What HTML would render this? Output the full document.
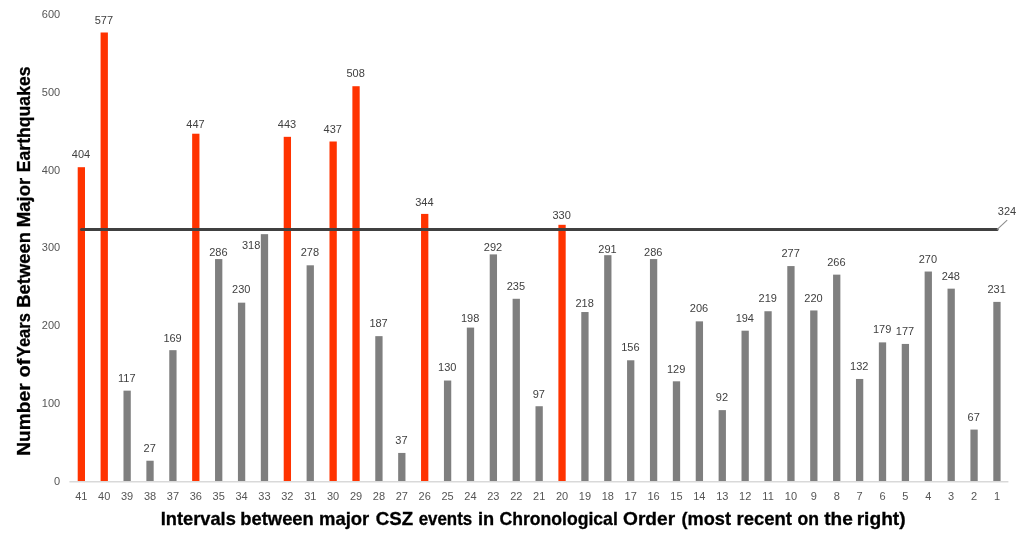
<!DOCTYPE html>
<html lang="en"><head><meta charset="utf-8"><title>Intervals between major CSZ events</title>
<style>
html,body{margin:0;padding:0;background:#fff;}
body{width:1023px;height:544px;overflow:hidden;}
svg{display:block;font-family:"Liberation Sans",sans-serif;}
.ax{font-size:11px;fill:#555;}
.dl{font-size:11px;fill:#404040;}
.t{font-size:17.7px;font-weight:bold;fill:#000;stroke:#000;stroke-width:0.3px;}
</style></head><body>
<svg width="1023" height="544" viewBox="0 0 1023 544">
<rect width="1023" height="544" fill="#fff"/>
<text class="ax" x="60.2" y="485" text-anchor="end">0</text>
<text class="ax" x="60.2" y="407" text-anchor="end">100</text>
<text class="ax" x="60.2" y="329" text-anchor="end">200</text>
<text class="ax" x="60.2" y="251" text-anchor="end">300</text>
<text class="ax" x="60.2" y="174" text-anchor="end">400</text>
<text class="ax" x="60.2" y="96" text-anchor="end">500</text>
<text class="ax" x="60.2" y="18" text-anchor="end">600</text>
<rect x="77.70" y="167.20" width="7.3" height="313.90" fill="#ff3300"/>
<rect x="100.59" y="32.50" width="7.3" height="448.60" fill="#ff3300"/>
<rect x="123.48" y="390.65" width="7.3" height="90.45" fill="#7f7f7f"/>
<rect x="146.37" y="460.73" width="7.3" height="20.37" fill="#7f7f7f"/>
<rect x="169.26" y="350.17" width="7.3" height="130.93" fill="#7f7f7f"/>
<rect x="192.15" y="133.72" width="7.3" height="347.38" fill="#ff3300"/>
<rect x="215.04" y="259.07" width="7.3" height="222.03" fill="#7f7f7f"/>
<rect x="237.93" y="302.67" width="7.3" height="178.43" fill="#7f7f7f"/>
<rect x="260.82" y="234.16" width="7.3" height="246.94" fill="#7f7f7f"/>
<rect x="283.71" y="136.83" width="7.3" height="344.27" fill="#ff3300"/>
<rect x="306.60" y="265.30" width="7.3" height="215.80" fill="#7f7f7f"/>
<rect x="329.49" y="141.50" width="7.3" height="339.60" fill="#ff3300"/>
<rect x="352.38" y="86.22" width="7.3" height="394.88" fill="#ff3300"/>
<rect x="375.27" y="336.15" width="7.3" height="144.95" fill="#7f7f7f"/>
<rect x="398.16" y="452.94" width="7.3" height="28.16" fill="#7f7f7f"/>
<rect x="421.05" y="213.91" width="7.3" height="267.19" fill="#ff3300"/>
<rect x="443.94" y="380.53" width="7.3" height="100.57" fill="#7f7f7f"/>
<rect x="466.83" y="327.59" width="7.3" height="153.51" fill="#7f7f7f"/>
<rect x="489.72" y="254.40" width="7.3" height="226.70" fill="#7f7f7f"/>
<rect x="512.61" y="298.78" width="7.3" height="182.32" fill="#7f7f7f"/>
<rect x="535.50" y="406.23" width="7.3" height="74.87" fill="#7f7f7f"/>
<rect x="558.39" y="224.81" width="7.3" height="256.29" fill="#ff3300"/>
<rect x="581.28" y="312.02" width="7.3" height="169.08" fill="#7f7f7f"/>
<rect x="604.17" y="255.18" width="7.3" height="225.92" fill="#7f7f7f"/>
<rect x="627.06" y="360.29" width="7.3" height="120.81" fill="#7f7f7f"/>
<rect x="649.95" y="259.07" width="7.3" height="222.03" fill="#7f7f7f"/>
<rect x="672.84" y="381.31" width="7.3" height="99.79" fill="#7f7f7f"/>
<rect x="695.73" y="321.36" width="7.3" height="159.74" fill="#7f7f7f"/>
<rect x="718.62" y="410.12" width="7.3" height="70.98" fill="#7f7f7f"/>
<rect x="741.51" y="330.70" width="7.3" height="150.40" fill="#7f7f7f"/>
<rect x="764.40" y="311.24" width="7.3" height="169.86" fill="#7f7f7f"/>
<rect x="787.29" y="266.08" width="7.3" height="215.02" fill="#7f7f7f"/>
<rect x="810.18" y="310.46" width="7.3" height="170.64" fill="#7f7f7f"/>
<rect x="833.07" y="274.64" width="7.3" height="206.46" fill="#7f7f7f"/>
<rect x="855.96" y="378.97" width="7.3" height="102.13" fill="#7f7f7f"/>
<rect x="878.85" y="342.38" width="7.3" height="138.72" fill="#7f7f7f"/>
<rect x="901.74" y="343.94" width="7.3" height="137.16" fill="#7f7f7f"/>
<rect x="924.63" y="271.53" width="7.3" height="209.57" fill="#7f7f7f"/>
<rect x="947.52" y="288.66" width="7.3" height="192.44" fill="#7f7f7f"/>
<rect x="970.41" y="429.58" width="7.3" height="51.52" fill="#7f7f7f"/>
<rect x="993.30" y="301.89" width="7.3" height="179.21" fill="#7f7f7f"/>
<line x1="69.4" y1="481.8" x2="1008.4" y2="481.8" stroke="#d9d9d9" stroke-width="1.5"/>
<line x1="81.50" y1="229.58" x2="997.05" y2="229.58" stroke="#404040" stroke-width="3" stroke-linecap="round"/>
<line x1="996.95" y1="229.58" x2="1007.2" y2="220.2" stroke="#8c8c8c" stroke-width="1.1"/>
<text class="dl" x="1007" y="215" text-anchor="middle">324</text>
<text class="dl" x="81.00" y="158" text-anchor="middle">404</text>
<text class="dl" x="103.89" y="24" text-anchor="middle">577</text>
<text class="dl" x="126.78" y="382" text-anchor="middle">117</text>
<text class="dl" x="149.67" y="452" text-anchor="middle">27</text>
<text class="dl" x="172.56" y="342" text-anchor="middle">169</text>
<text class="dl" x="195.45" y="128" text-anchor="middle">447</text>
<text class="dl" x="218.34" y="256" text-anchor="middle">286</text>
<text class="dl" x="241.23" y="293" text-anchor="middle">230</text>
<text class="dl" x="251.17" y="249" text-anchor="middle">318</text>
<text class="dl" x="287.01" y="128" text-anchor="middle">443</text>
<text class="dl" x="309.90" y="256" text-anchor="middle">278</text>
<text class="dl" x="332.79" y="133" text-anchor="middle">437</text>
<text class="dl" x="355.68" y="77" text-anchor="middle">508</text>
<text class="dl" x="378.57" y="327" text-anchor="middle">187</text>
<text class="dl" x="401.46" y="444" text-anchor="middle">37</text>
<text class="dl" x="424.35" y="206" text-anchor="middle">344</text>
<text class="dl" x="447.24" y="371" text-anchor="middle">130</text>
<text class="dl" x="470.13" y="322" text-anchor="middle">198</text>
<text class="dl" x="493.02" y="251" text-anchor="middle">292</text>
<text class="dl" x="515.91" y="290" text-anchor="middle">235</text>
<text class="dl" x="538.80" y="398" text-anchor="middle">97</text>
<text class="dl" x="561.69" y="219" text-anchor="middle">330</text>
<text class="dl" x="584.58" y="307" text-anchor="middle">218</text>
<text class="dl" x="607.47" y="253" text-anchor="middle">291</text>
<text class="dl" x="630.36" y="351" text-anchor="middle">156</text>
<text class="dl" x="653.25" y="256" text-anchor="middle">286</text>
<text class="dl" x="676.14" y="373" text-anchor="middle">129</text>
<text class="dl" x="699.03" y="312" text-anchor="middle">206</text>
<text class="dl" x="721.92" y="401" text-anchor="middle">92</text>
<text class="dl" x="744.81" y="322" text-anchor="middle">194</text>
<text class="dl" x="767.70" y="302" text-anchor="middle">219</text>
<text class="dl" x="790.59" y="257" text-anchor="middle">277</text>
<text class="dl" x="813.48" y="302" text-anchor="middle">220</text>
<text class="dl" x="836.37" y="266" text-anchor="middle">266</text>
<text class="dl" x="859.26" y="370" text-anchor="middle">132</text>
<text class="dl" x="882.15" y="333" text-anchor="middle">179</text>
<text class="dl" x="905.04" y="335" text-anchor="middle">177</text>
<text class="dl" x="927.93" y="263" text-anchor="middle">270</text>
<text class="dl" x="950.82" y="280" text-anchor="middle">248</text>
<text class="dl" x="973.71" y="421" text-anchor="middle">67</text>
<text class="dl" x="996.60" y="293" text-anchor="middle">231</text>
<text class="ax" x="81.35" y="500" text-anchor="middle">41</text>
<text class="ax" x="104.24" y="500" text-anchor="middle">40</text>
<text class="ax" x="127.13" y="500" text-anchor="middle">39</text>
<text class="ax" x="150.02" y="500" text-anchor="middle">38</text>
<text class="ax" x="172.91" y="500" text-anchor="middle">37</text>
<text class="ax" x="195.80" y="500" text-anchor="middle">36</text>
<text class="ax" x="218.69" y="500" text-anchor="middle">35</text>
<text class="ax" x="241.58" y="500" text-anchor="middle">34</text>
<text class="ax" x="264.47" y="500" text-anchor="middle">33</text>
<text class="ax" x="287.36" y="500" text-anchor="middle">32</text>
<text class="ax" x="310.25" y="500" text-anchor="middle">31</text>
<text class="ax" x="333.14" y="500" text-anchor="middle">30</text>
<text class="ax" x="356.03" y="500" text-anchor="middle">29</text>
<text class="ax" x="378.92" y="500" text-anchor="middle">28</text>
<text class="ax" x="401.81" y="500" text-anchor="middle">27</text>
<text class="ax" x="424.70" y="500" text-anchor="middle">26</text>
<text class="ax" x="447.59" y="500" text-anchor="middle">25</text>
<text class="ax" x="470.48" y="500" text-anchor="middle">24</text>
<text class="ax" x="493.37" y="500" text-anchor="middle">23</text>
<text class="ax" x="516.26" y="500" text-anchor="middle">22</text>
<text class="ax" x="539.15" y="500" text-anchor="middle">21</text>
<text class="ax" x="562.04" y="500" text-anchor="middle">20</text>
<text class="ax" x="584.93" y="500" text-anchor="middle">19</text>
<text class="ax" x="607.82" y="500" text-anchor="middle">18</text>
<text class="ax" x="630.71" y="500" text-anchor="middle">17</text>
<text class="ax" x="653.60" y="500" text-anchor="middle">16</text>
<text class="ax" x="676.49" y="500" text-anchor="middle">15</text>
<text class="ax" x="699.38" y="500" text-anchor="middle">14</text>
<text class="ax" x="722.27" y="500" text-anchor="middle">13</text>
<text class="ax" x="745.16" y="500" text-anchor="middle">12</text>
<text class="ax" x="768.05" y="500" text-anchor="middle">11</text>
<text class="ax" x="790.94" y="500" text-anchor="middle">10</text>
<text class="ax" x="813.83" y="500" text-anchor="middle">9</text>
<text class="ax" x="836.72" y="500" text-anchor="middle">8</text>
<text class="ax" x="859.61" y="500" text-anchor="middle">7</text>
<text class="ax" x="882.50" y="500" text-anchor="middle">6</text>
<text class="ax" x="905.39" y="500" text-anchor="middle">5</text>
<text class="ax" x="928.28" y="500" text-anchor="middle">4</text>
<text class="ax" x="951.17" y="500" text-anchor="middle">3</text>
<text class="ax" x="974.06" y="500" text-anchor="middle">2</text>
<text class="ax" x="996.95" y="500" text-anchor="middle">1</text>
<text class="t" y="525.1"><tspan x="160.81" textLength="75.05" lengthAdjust="spacingAndGlyphs">Intervals</tspan> <tspan x="240.30" textLength="73.52" lengthAdjust="spacingAndGlyphs">between</tspan> <tspan x="318.99" textLength="50.28" lengthAdjust="spacingAndGlyphs">major</tspan> <tspan x="375.75" textLength="37.34" lengthAdjust="spacingAndGlyphs">CSZ</tspan> <tspan x="418.69" textLength="53.52" lengthAdjust="spacingAndGlyphs">events</tspan> <tspan x="477.91" textLength="16.20" lengthAdjust="spacingAndGlyphs">in</tspan> <tspan x="499.50" textLength="118.30" lengthAdjust="spacingAndGlyphs">Chronological</tspan> <tspan x="623.04" textLength="52.04" lengthAdjust="spacingAndGlyphs">Order</tspan> <tspan x="681.57" textLength="49.48" lengthAdjust="spacingAndGlyphs">(most</tspan> <tspan x="736.59" textLength="55.36" lengthAdjust="spacingAndGlyphs">recent</tspan> <tspan x="797.47" textLength="21.50" lengthAdjust="spacingAndGlyphs">on</tspan> <tspan x="824.21" textLength="28.49" lengthAdjust="spacingAndGlyphs">the</tspan> <tspan x="856.65" textLength="48.97" lengthAdjust="spacingAndGlyphs">right)</tspan></text>
<text class="t" transform="translate(30.0,0) rotate(-90)" y="0"><tspan x="-455.75" textLength="72.43" lengthAdjust="spacingAndGlyphs">Number</tspan> <tspan x="-377.19" textLength="18.45" lengthAdjust="spacingAndGlyphs">of</tspan> <tspan x="-357.16" textLength="43.96" lengthAdjust="spacingAndGlyphs">Years</tspan> <tspan x="-307.70" textLength="75.62" lengthAdjust="spacingAndGlyphs">Between</tspan> <tspan x="-227.32" textLength="49.59" lengthAdjust="spacingAndGlyphs">Major</tspan> <tspan x="-172.26" textLength="105.79" lengthAdjust="spacingAndGlyphs">Earthquakes</tspan></text>
</svg></body></html>
